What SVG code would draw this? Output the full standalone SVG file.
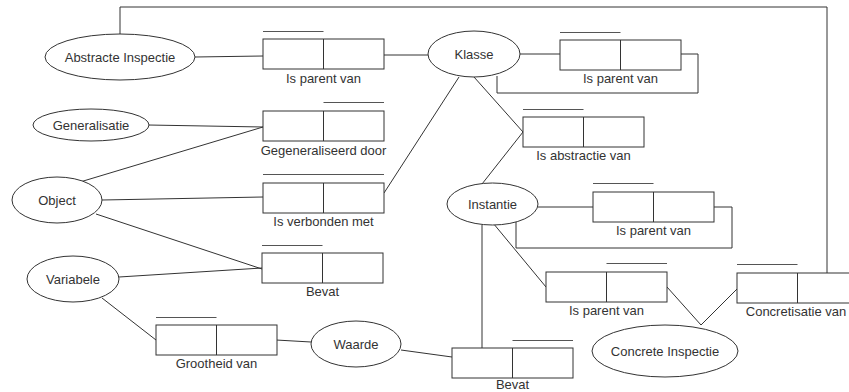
<svg xmlns="http://www.w3.org/2000/svg" width="849" height="392" viewBox="0 0 849 392">
  <style>
    .bg { fill: #ffffff; }
    .ent ellipse { fill: #ffffff; stroke: #333333; stroke-width: 1; }
    .rel rect { fill: #ffffff; stroke: #333333; stroke-width: 1; }
    .rel .div { stroke: #333333; stroke-width: 1; }
    .rel .over { stroke: #555555; stroke-width: 1.2; }
    text { font-family: "Liberation Sans", Arial, sans-serif; font-size: 13px; fill: #333333; text-anchor: middle; }
    #connectors path, #connectors line { fill: none; stroke: #333333; stroke-width: 1; }
  </style>
  <rect class="bg" x="0" y="0" width="849" height="392"/>

  <!-- connectors -->
  <g id="connectors">
    <path d="M120,34 V7 H827 V273"/>
    <line x1="195" y1="57" x2="263" y2="56"/>
    <line x1="384" y1="55" x2="428" y2="55"/>
    <line x1="520" y1="54" x2="560" y2="54"/>
    <path d="M681,54 H698 V93 H497 V76"/>
    <line x1="459" y1="77" x2="384" y2="193"/>
    <line x1="474" y1="77" x2="523" y2="132"/>
    <line x1="523" y1="132" x2="482" y2="184"/>
    <line x1="148" y1="125" x2="263" y2="127"/>
    <line x1="80" y1="182" x2="263" y2="127"/>
    <line x1="102" y1="200" x2="263" y2="197"/>
    <line x1="96" y1="214" x2="262" y2="269"/>
    <line x1="119" y1="277" x2="262" y2="268"/>
    <line x1="102" y1="298" x2="156" y2="340"/>
    <line x1="276" y1="340" x2="311" y2="342"/>
    <line x1="401" y1="350" x2="452" y2="357"/>
    <line x1="482" y1="225" x2="482" y2="348"/>
    <line x1="538" y1="207" x2="593" y2="207"/>
    <path d="M714,207 H732 V248 H516 V222"/>
    <line x1="493" y1="223" x2="546" y2="287"/>
    <line x1="667" y1="287" x2="701" y2="325"/>
    <line x1="701" y1="325" x2="737" y2="289"/>
  </g>

  <!-- entity nodes -->
  <g id="abstracte-inspectie" class="ent">
    <ellipse cx="120" cy="57" rx="75" ry="23"/>
    <text x="120" y="62">Abstracte Inspectie</text>
  </g>
  <g id="klasse" class="ent">
    <ellipse cx="474" cy="54" rx="46" ry="23"/>
    <text x="474" y="59">Klasse</text>
  </g>
  <g id="generalisatie" class="ent">
    <ellipse cx="91" cy="125" rx="58" ry="16"/>
    <text x="91" y="130">Generalisatie</text>
  </g>
  <g id="object" class="ent">
    <ellipse cx="57" cy="200" rx="45" ry="23"/>
    <text x="57" y="205">Object</text>
  </g>
  <g id="variabele" class="ent">
    <ellipse cx="73" cy="279" rx="46" ry="23"/>
    <text x="73" y="284">Variabele</text>
  </g>
  <g id="waarde" class="ent">
    <ellipse cx="356" cy="344" rx="45" ry="23"/>
    <text x="356" y="349">Waarde</text>
  </g>
  <g id="instantie" class="ent">
    <ellipse cx="492.5" cy="204" rx="45.5" ry="21"/>
    <text x="492.5" y="209">Instantie</text>
  </g>
  <g id="concrete-inspectie" class="ent">
    <ellipse cx="665" cy="351" rx="73" ry="26"/>
    <text x="665" y="356">Concrete Inspectie</text>
  </g>

  <!-- relation nodes -->
  <g id="rel-ai-parent" class="rel">
    <line class="over" x1="263" y1="31.5" x2="323.5" y2="31.5"/>
    <rect x="263" y="39" width="121" height="30"/>
    <line class="div" x1="323.5" y1="39" x2="323.5" y2="69"/>
    <text x="323.5" y="83">Is parent van</text>
  </g>
  <g id="rel-gegeneraliseerd" class="rel">
    <line class="over" x1="323.5" y1="102.5" x2="384" y2="102.5"/>
    <rect x="263" y="111" width="121" height="30"/>
    <line class="div" x1="323.5" y1="111" x2="323.5" y2="141"/>
    <text x="323.5" y="155">Gegeneraliseerd door</text>
  </g>
  <g id="rel-verbonden" class="rel">
    <line class="over" x1="263" y1="174.5" x2="384" y2="174.5"/>
    <rect x="263" y="183" width="121" height="30"/>
    <line class="div" x1="323.5" y1="183" x2="323.5" y2="213"/>
    <text x="323.5" y="226">Is verbonden met</text>
  </g>
  <g id="rel-object-bevat" class="rel">
    <line class="over" x1="262" y1="245.5" x2="322.5" y2="245.5"/>
    <rect x="262" y="253" width="121" height="30"/>
    <line class="div" x1="322.5" y1="253" x2="322.5" y2="283"/>
    <text x="322.5" y="296">Bevat</text>
  </g>
  <g id="rel-grootheid" class="rel">
    <line class="over" x1="156" y1="317.5" x2="216.5" y2="317.5"/>
    <rect x="156" y="325" width="121" height="30"/>
    <line class="div" x1="216.5" y1="325" x2="216.5" y2="355"/>
    <text x="216.5" y="368">Grootheid van</text>
  </g>
  <g id="rel-instantie-bevat" class="rel">
    <line class="over" x1="512.5" y1="340.5" x2="573" y2="340.5"/>
    <rect x="452" y="348" width="121" height="30"/>
    <line class="div" x1="512.5" y1="348" x2="512.5" y2="378"/>
    <text x="512.5" y="389">Bevat</text>
  </g>
  <g id="rel-klasse-parent" class="rel">
    <line class="over" x1="560" y1="32.5" x2="620.5" y2="32.5"/>
    <rect x="560" y="40" width="121" height="30"/>
    <line class="div" x1="620.5" y1="40" x2="620.5" y2="70"/>
    <text x="620.5" y="83">Is parent van</text>
  </g>
  <g id="rel-abstractie" class="rel">
    <line class="over" x1="523" y1="109.5" x2="583.5" y2="109.5"/>
    <rect x="523" y="117" width="121" height="30"/>
    <line class="div" x1="583.5" y1="117" x2="583.5" y2="147"/>
    <text x="583.5" y="160">Is abstractie van</text>
  </g>
  <g id="rel-instantie-parent" class="rel">
    <line class="over" x1="593" y1="183.5" x2="653.5" y2="183.5"/>
    <rect x="593" y="192" width="121" height="30"/>
    <line class="div" x1="653.5" y1="192" x2="653.5" y2="222"/>
    <text x="653.5" y="235">Is parent van</text>
  </g>
  <g id="rel-concrete-parent" class="rel">
    <line class="over" x1="606.5" y1="263.5" x2="667" y2="263.5"/>
    <rect x="546" y="272" width="121" height="30"/>
    <line class="div" x1="606.5" y1="272" x2="606.5" y2="302"/>
    <text x="606.5" y="315">Is parent van</text>
  </g>
  <g id="rel-concretisatie" class="rel">
    <line class="over" x1="737" y1="264.5" x2="797.5" y2="264.5"/>
    <rect x="737" y="273" width="121" height="30"/>
    <line class="div" x1="797.5" y1="273" x2="797.5" y2="303"/>
    <text x="796" y="316">Concretisatie van</text>
  </g>
</svg>
